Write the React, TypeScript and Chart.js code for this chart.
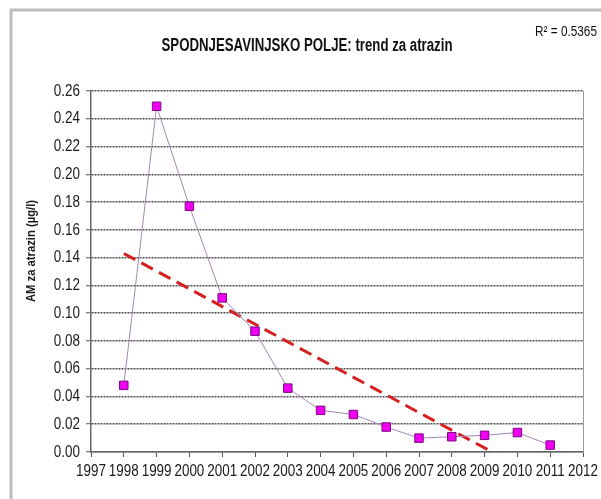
import React, { useEffect, useRef } from "react";
import { Chart, registerables } from "chart.js";

Chart.register(...registerables);

// ---- data ----
const years = [1998, 1999, 2000, 2001, 2002, 2003, 2004, 2005, 2006, 2007, 2008, 2009, 2010, 2011];
const atrazin = [0.048, 0.249, 0.177, 0.111, 0.087, 0.046, 0.030, 0.027, 0.018, 0.010, 0.011, 0.012, 0.014, 0.005];
const trendYears = [1998, 2009.23];
const trendValues = [0.143, 0];
const xMin = 1997;
const xMax = 2012;
const yMin = 0;
const yMax = 0.26;
const yStep = 0.02;
const titleText = "SPODNJESAVINJSKO POLJE: trend za atrazin";
const r2Text = "R² = 0.5365";
const yAxisLabel = "AM za atrazin (µg/l)";

const FONT = '"Liberation Sans", Arial, sans-serif';
const TICK_SX = 0.79;

function drawText(
  ctx: CanvasRenderingContext2D,
  text: string,
  x: number,
  y: number,
  font: string,
  align: CanvasTextAlign,
  sx: number,
  targetWidth?: number
) {
  ctx.save();
  ctx.font = font;
  let scale = sx;
  if (targetWidth) scale = targetWidth / ctx.measureText(text).width;
  ctx.translate(x, y);
  ctx.scale(scale, 1);
  ctx.textAlign = align;
  ctx.textBaseline = "middle";
  ctx.fillText(text, 0, 0);
  ctx.restore();
}

const decorPlugin = {
  id: "decor",
  afterDraw(chart: any) {
    const ctx = chart.ctx as CanvasRenderingContext2D;
    const area = chart.chartArea;
    ctx.save();
    // outer frame (left + top)
    ctx.strokeStyle = "#bdbdbd";
    ctx.lineWidth = 3;
    ctx.beginPath();
    ctx.moveTo(11, 499);
    ctx.lineTo(11, 10);
    ctx.lineTo(601, 10);
    ctx.stroke();
    // right border of plot
    ctx.strokeStyle = "#9a9a9a";
    ctx.lineWidth = 1;
    ctx.beginPath();
    ctx.moveTo(area.right + 0.5, area.top);
    ctx.lineTo(area.right + 0.5, area.bottom);
    ctx.stroke();
    ctx.fillStyle = "#111";
    // title
    drawText(ctx, titleText, 307, 46, `bold 18px ${FONT}`, "center", 1, 291);
    // R2
    drawText(ctx, r2Text, 535, 32, `14px ${FONT}`, "left", 1, 62);
    // tick labels
    const xs = chart.scales.x;
    const ys = chart.scales.y;
    ctx.fillStyle = "#1a1a1a";
    xs.ticks.forEach((t: any) => {
      const px = xs.getPixelForValue(t.value);
      drawText(ctx, String(t.value), px, 471, `17px ${FONT}`, "center", TICK_SX);
    });
    ys.ticks.forEach((t: any) => {
      const py = ys.getPixelForValue(t.value);
      drawText(ctx, Number(t.value).toFixed(2), 80, py, `17px ${FONT}`, "right", TICK_SX);
    });
    // y axis label
    ctx.save();
    ctx.translate(31, 251);
    ctx.rotate(-Math.PI / 2);
    drawText(ctx, yAxisLabel, 0, 0, `bold 13px ${FONT}`, "center", 1, 102);
    ctx.restore();
    ctx.restore();
  },
};

export default function App() {
  const canvasRef = useRef<HTMLCanvasElement | null>(null);

  useEffect(() => {
    document.body.style.margin = "0";
    const canvas = canvasRef.current;
    if (!canvas) return;
    const chart = new Chart(canvas, {
      type: "line",
      data: {
        datasets: [
          {
            label: "AM atrazin",
            data: years.map((x, i) => ({ x, y: atrazin[i] })),
            borderColor: "#a487b4",
            borderWidth: 1,
            pointStyle: "rect",
            pointRadius: 6,
            pointBackgroundColor: "#f000f0",
            pointBorderColor: "#7a0a80",
            pointBorderWidth: 1,
            order: 1,
          },
          {
            label: "trend",
            data: trendYears.map((x, i) => ({ x, y: trendValues[i] })),
            borderColor: "#d61f1f",
            borderWidth: 3,
            borderDash: [13, 7],
            pointRadius: 0,
            order: 2,
          },
        ],
      },
      options: {
        animation: false,
        responsive: false,
        maintainAspectRatio: false,
        layout: { padding: { left: 0, top: 91, right: 18, bottom: 0 } },
        plugins: {
          legend: { display: false },
          tooltip: { enabled: false },
          title: { display: false },
        },
        scales: {
          x: {
            type: "linear",
            min: xMin,
            max: xMax,
            afterFit(scale: any) {
              scale.height = 47;
            },
            ticks: {
              stepSize: 1,
              autoSkip: false,
              maxRotation: 0,
              color: "rgba(0,0,0,0)",
              font: { family: FONT, size: 12 },
              callback: (v: any) => String(v),
            },
            grid: {
              drawOnChartArea: false,
              drawTicks: true,
              tickLength: 5,
              tickColor: "#555",
            },
            border: { display: true, color: "#666", width: 1.5 },
          },
          y: {
            type: "linear",
            min: yMin,
            max: yMax,
            afterFit(scale: any) {
              scale.width = 91;
            },
            ticks: {
              stepSize: yStep,
              color: "rgba(0,0,0,0)",
              font: { family: FONT, size: 12 },
              callback: (v: any) => Number(v).toFixed(2),
            },
            grid: {
              color: "#505050",
              lineWidth: 1.5,
              drawTicks: true,
              tickLength: 5,
              tickColor: "#555",
              tickWidth: 1,
              tickBorderDash: [],
            },
            border: { display: true, color: "#666", width: 1.5, dash: [2, 1] },
          },
        },
      },
      plugins: [decorPlugin],
    });
    return () => chart.destroy();
  }, []);

  return (
    <div style={{ width: 601, height: 499, background: "#fff" }}>
      <canvas ref={canvasRef} width={601} height={499} style={{ display: "block" }} />
    </div>
  );
}
